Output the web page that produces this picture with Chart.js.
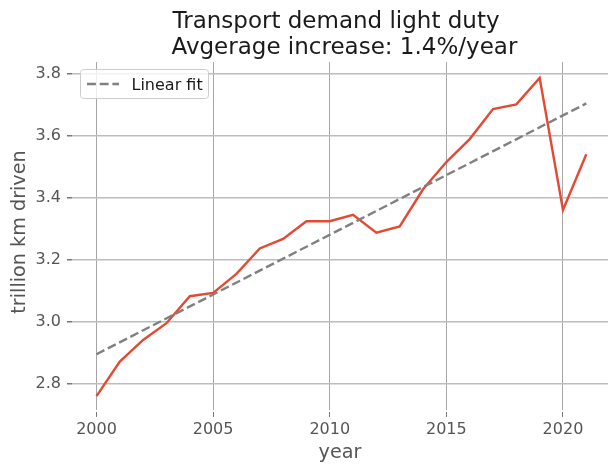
<!DOCTYPE html>
<html>
<head>
<meta charset="utf-8">
<script src="https://cdn.jsdelivr.net/npm/chart.js@4.4.0/dist/chart.umd.min.js"></script>
<style>
    html, body { margin: 0; padding: 0; background: #ffffff; }
</style>
</head>
<body>
<canvas id="demandChart" width="608" height="468"></canvas>
<script>
// values
const years = [2000, 2001, 2002, 2003, 2004, 2005, 2006, 2007, 2008, 2009, 2010,
               2011, 2012, 2013, 2014, 2015, 2016, 2017, 2018, 2019, 2020, 2021];
const demand = [2.761, 2.872, 2.942, 2.996, 3.083, 3.094, 3.155, 3.237, 3.268, 3.325, 3.325,
                3.346, 3.288, 3.308, 3.428, 3.516, 3.590, 3.687, 3.702, 3.787, 3.361, 3.541];
const fitYears = [2000, 2021];
const fitValues = [2.896, 3.705];
const xTicks = [2000, 2005, 2010, 2015, 2020];
const yTicks = [2.8, 3.0, 3.2, 3.4, 3.6, 3.8];
const titleLines = ['Transport demand light duty', 'Avgerage increase: 1.4%/year'];
const xLabel = 'year';
const yLabel = 'trillion km driven';
const fitLabel = 'Linear fit';

const FONT = '"DejaVu Sans", sans-serif';

// titles, axis labels and the little legend box, placed like the original
const textPlugin = {
    id: 'textPlugin',
    afterDraw(chart) {
        const ctx = chart.ctx;
        const area = chart.chartArea;
        const midX = (area.left + area.right) / 2;
        ctx.save();
        ctx.textBaseline = 'alphabetic';

        // both title lines start at the same x in the original
        ctx.fillStyle = '#1a1a1a';
        ctx.font = '23px ' + FONT;
        ctx.textAlign = 'left';
        ctx.fillText(titleLines[0], 172.5, 27.5);
        ctx.fillText(titleLines[1], 171.5, 53.5);

        ctx.fillStyle = '#555555';
        ctx.font = '19.2px ' + FONT;
        ctx.textAlign = 'center';
        ctx.fillText(xLabel, midX, 458);
        ctx.save();
        ctx.translate(25, 232);
        ctx.rotate(-Math.PI / 2);
        ctx.fillText(yLabel, 0, 0);
        ctx.restore();

        // legend
        const fit = chart.data.datasets[1];
        ctx.beginPath();
        ctx.roundRect(80.5, 69.5, 128, 29, 3);
        ctx.fillStyle = 'rgba(255,255,255,0.8)';
        ctx.fill();
        ctx.strokeStyle = '#cccccc';
        ctx.lineWidth = 1;
        ctx.stroke();

        ctx.beginPath();
        ctx.setLineDash(fit.borderDash);
        ctx.strokeStyle = fit.borderColor;
        ctx.lineWidth = fit.borderWidth;
        ctx.moveTo(87, 84);
        ctx.lineTo(119, 84);
        ctx.stroke();
        ctx.setLineDash([]);

        ctx.fillStyle = '#1a1a1a';
        ctx.font = '16px ' + FONT;
        ctx.textAlign = 'left';
        ctx.fillText(fit.label, 131.5, 90);
        ctx.restore();
    }
};

function drawDemandChart() {
    var ctx = document.getElementById('demandChart').getContext('2d');
    var demandChart = new Chart(ctx, {
        type: 'line',
        data: {
            datasets: [{
                label: 'demand',
                data: years.map((y, i) => ({ x: y, y: demand[i] })),
                borderColor: '#E24A33',
                borderWidth: 2.4,
                pointRadius: 0,
                tension: 0,
                order: 1
            }, {
                label: fitLabel,
                data: fitYears.map((y, i) => ({ x: y, y: fitValues[i] })),
                borderColor: '#808080',
                borderWidth: 2.4,
                borderDash: [8.9, 3.8],
                pointRadius: 0,
                order: 0
            }]
        },
        options: {
            responsive: false,
            animation: false,
            layout: {
                padding: { top: 62, left: 0, right: 0, bottom: 0 }
            },
            scales: {
                x: {
                    type: 'linear',
                    min: 1998.95,
                    max: 2021.93,
                    afterBuildTicks: scale => { scale.ticks = xTicks.map(v => ({ value: v })); },
                    afterFit: scale => { scale.height = 58; },
                    border: { display: false },
                    grid: {
                        color: '#a6a6a6',
                        lineWidth: 1,
                        tickLength: 7,
                        tickColor: '#777777',
                        tickBorderDash: [0, 2, 5, 100]
                    },
                    ticks: {
                        color: '#555555',
                        padding: 3,
                        maxRotation: 0,
                        font: { family: FONT, size: 16 },
                        callback: v => String(v)
                    }
                },
                y: {
                    type: 'linear',
                    min: 2.716,
                    max: 3.8387,
                    afterBuildTicks: scale => { scale.ticks = yTicks.map(v => ({ value: v })); },
                    afterFit: scale => { scale.width = 72; },
                    border: { display: false },
                    grid: {
                        color: '#bdbdbd',
                        lineWidth: 1.5,
                        tickLength: 6,
                        tickColor: '#777777',
                        tickBorderDash: [0, 1, 5, 100]
                    },
                    ticks: {
                        color: '#555555',
                        padding: 5,
                        font: { family: FONT, size: 16 },
                        callback: v => v.toFixed(1)
                    }
                }
            },
            plugins: {
                legend: { display: false },
                tooltip: { enabled: false },
                title: { display: false }
            }
        },
        plugins: [textPlugin]
    });
}

document.addEventListener("DOMContentLoaded", function() {
    drawDemandChart();
});
</script>
</body>
</html>
